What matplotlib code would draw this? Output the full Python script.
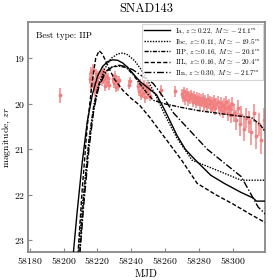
import matplotlib
matplotlib.use("Agg")
import matplotlib.pyplot as plt
import numpy as np

plt.rcParams['font.family'] = 'serif'
plt.rcParams['font.serif'] = ['cmr10', 'DejaVu Serif']
plt.rcParams['mathtext.fontset'] = 'cm'
plt.rcParams['axes.formatter.use_mathtext'] = True
plt.rcParams['axes.unicode_minus'] = False

# ---- observed photometry (MJD, magnitude, error) ----
obs_mjd = [58198.2,
    58215.5, 58216.0, 58216.5, 58217.0, 58217.5, 58218.0, 58218.5, 58219.0, 58219.5, 58220.0, 58220.5,
    58222.0, 58222.6, 58223.2, 58223.8, 58224.4, 58225.0, 58225.6, 58226.2, 58226.8,
    58229.0, 58229.6, 58230.2, 58230.8, 58231.4, 58232.0, 58232.6,
    58238.5, 58239.5,
    58244.0, 58244.6, 58245.2, 58245.8, 58246.4, 58247.0, 58247.6, 58248.2, 58248.8, 58249.4, 58250.0, 58250.6, 58251.2,
    58257.5, 58266.0,
    58270.0, 58270.6, 58271.2, 58271.8, 58272.4, 58273.0, 58273.6, 58274.2, 58274.8, 58275.4,
    58276.0, 58276.6, 58277.2, 58277.8, 58278.4, 58279.0, 58279.6, 58280.2, 58280.8, 58281.4,
    58282.0, 58282.6, 58283.2, 58283.8, 58284.4, 58285.0, 58285.6, 58286.2, 58286.8, 58287.4,
    58288.0, 58288.6, 58289.2, 58289.8, 58290.4, 58291.0, 58291.6, 58292.2, 58292.8, 58293.4,
    58294.0, 58294.6, 58295.2, 58295.8, 58296.4, 58297.0, 58297.6, 58298.2, 58298.8, 58299.4,
    58301.0, 58302.0, 58303.0, 58304.0, 58305.0, 58306.5, 58308.0, 58309.5, 58311.0, 58312.5,
    58314.0, 58315.5, 58317.0, 58318.5]
obs_mag = [19.81,
    19.45, 19.30, 19.60, 19.40, 19.25, 19.55, 19.70, 19.35, 19.50, 19.62, 19.40,
    19.35, 19.50, 19.28, 19.45, 19.60, 19.38, 19.52, 19.42, 19.58,
    19.45, 19.55, 19.38, 19.62, 19.50, 19.60, 19.48,
    19.58, 19.50,
    19.60, 19.72, 19.55, 19.80, 19.65, 19.75, 19.58, 19.85, 19.70, 19.62, 19.78, 19.68, 19.82,
    19.70, 19.72,
    19.78, 19.85, 19.72, 19.90, 19.80, 19.76, 19.92, 19.83, 19.88, 19.79,
    19.86, 19.95, 19.82, 19.90, 19.98, 19.84, 19.93, 19.88, 20.00, 19.90,
    19.95, 19.87, 20.02, 19.92, 19.98, 20.05, 19.90, 20.00, 19.94, 20.08,
    19.97, 20.04, 19.92, 20.10, 20.00, 19.95, 20.06, 20.12, 19.98, 20.05,
    20.15, 20.02, 20.10, 19.96, 20.08, 20.20, 20.05, 20.12, 20.25, 20.00,
    20.20, 20.35, 20.10, 20.45, 20.25, 20.55, 20.30, 20.40, 20.62, 20.20,
    20.70, 20.45, 20.80, 20.35]
obs_err = [0.17,
    0.12, 0.12, 0.13, 0.12, 0.12, 0.13, 0.14, 0.12, 0.13, 0.13, 0.12,
    0.10, 0.11, 0.10, 0.11, 0.12, 0.10, 0.11, 0.10, 0.12,
    0.10, 0.11, 0.10, 0.12, 0.11, 0.12, 0.10,
    0.10, 0.10,
    0.10, 0.11, 0.10, 0.12, 0.11, 0.11, 0.10, 0.12, 0.11, 0.10, 0.11, 0.10, 0.12,
    0.12, 0.12,
    0.10, 0.11, 0.10, 0.12, 0.11, 0.10, 0.12, 0.11, 0.12, 0.10,
    0.11, 0.12, 0.10, 0.11, 0.12, 0.10, 0.12, 0.11, 0.13, 0.11,
    0.12, 0.11, 0.13, 0.12, 0.12, 0.13, 0.11, 0.12, 0.12, 0.13,
    0.12, 0.13, 0.12, 0.14, 0.13, 0.12, 0.14, 0.15, 0.13, 0.14,
    0.15, 0.14, 0.15, 0.14, 0.16, 0.17, 0.15, 0.16, 0.18, 0.15,
    0.20, 0.22, 0.18, 0.25, 0.20, 0.26, 0.22, 0.24, 0.28, 0.20,
    0.30, 0.25, 0.30, 0.25]

# ---- model light curves ----
ia_t = [58205, 58208, 58211, 58214, 58217, 58220, 58223, 58226, 58229, 58232, 58235, 58238, 58241, 58245,
        58250, 58255, 58260, 58267, 58272, 58277, 58287, 58295, 58305, 58312, 58314, 58320]
ia_m = [23.6, 22.4, 21.3, 20.4, 19.8, 19.4, 19.18, 19.07, 19.03, 19.04, 19.1, 19.2, 19.33, 19.5,
        19.65, 19.8, 20.15, 20.69, 21.0, 21.2, 21.57, 21.75, 21.95, 22.07, 22.14, 22.14]

ibc_t = [58208, 58211, 58214, 58217, 58220, 58224, 58228, 58232, 58235, 58238, 58242, 58246, 58250,
         58255, 58260, 58267, 58276, 58290, 58305, 58320]
ibc_m = [23.6, 22.3, 21.2, 20.3, 19.7, 19.25, 19.0, 18.9, 18.88, 18.92, 19.05, 19.25, 19.5,
         19.85, 20.25, 20.75, 21.24, 21.45, 21.68, 21.68]

iip_t = [58209, 58212, 58215, 58218, 58221, 58225, 58229, 58233, 58237, 58241, 58245, 58249, 58253,
         58260, 58270, 58280, 58290, 58300, 58311, 58316, 58320]
iip_m = [23.6, 22.0, 20.8, 20.0, 19.55, 19.28, 19.18, 19.17, 19.2, 19.35, 19.55, 19.75, 19.92,
         20.0, 20.08, 20.15, 20.2, 20.25, 20.3, 20.45, 20.65]

iil_t = [58208, 58211, 58214, 58217, 58219, 58221, 58223, 58226, 58230, 58235, 58240, 58245, 58251,
         58260, 58270, 58279, 58290, 58300, 58310, 58320]
iil_m = [23.6, 21.9, 20.5, 19.5, 19.0, 18.83, 18.9, 19.15, 19.45, 19.7, 19.88, 20.03, 20.3,
         20.75, 21.25, 21.75, 22.0, 22.2, 22.42, 22.63]

iin_t = [58209, 58212, 58215, 58218, 58221, 58225, 58229, 58233, 58237, 58241, 58245, 58249, 58253,
         58259, 58265, 58275, 58285, 58293, 58305, 58315, 58320]
iin_m = [23.6, 22.2, 21.0, 20.1, 19.6, 19.3, 19.18, 19.15, 19.18, 19.25, 19.35, 19.45, 19.55,
         19.85, 20.2, 20.6, 21.0, 21.24, 21.6, 22.27, 22.45]

labels = [r'Ia, $z \simeq 0.22$, $M \simeq -21.1^m$',
          r'Ibc, $z \simeq 0.11$, $M \simeq -19.5^m$',
          r'IIP, $z \simeq 0.16$, $M \simeq -20.1^m$',
          r'IIL, $z \simeq 0.16$, $M \simeq -20.4^m$',
          r'IIn, $z \simeq 0.30$, $M \simeq -21.7^m$']

xticks = [58180, 58200, 58220, 58240, 58260, 58280, 58300]
yticks = [19, 20, 21, 22, 23]

fig = plt.figure(figsize=(2.8, 2.8), dpi=100)
ax = fig.add_axes([0.1, 0.1, 0.846, 0.821])

ax.errorbar(obs_mjd, obs_mag, yerr=obs_err, fmt='o', ms=1.8, color='#f08080',
            ecolor='#f4a0a0', elinewidth=1.4, capsize=0, zorder=1)

lw = 1.0
ax.plot(ia_t, ia_m, color='black', lw=lw, ls='-', label=labels[0], zorder=3)
ax.plot(ibc_t, ibc_m, color='black', lw=lw, ls=(0, (1, 1)), label=labels[1], zorder=3)
ax.plot(iip_t, iip_m, color='black', lw=lw, ls=(0, (3, 1, 1, 1)), label=labels[2], zorder=3)
ax.plot(iil_t, iil_m, color='black', lw=lw, ls=(0, (3, 1.5)), label=labels[3], zorder=3)
ax.plot(iin_t, iin_m, color='black', lw=lw, ls=(0, (5, 1.5, 1, 1.5)), label=labels[4], zorder=3)

ax.set_xlim(58179, 58319)
ax.set_ylim(23.26, 18.2)
ax.set_xticks(xticks)
ax.set_yticks(yticks)
ax.tick_params(direction='in', labelsize=7, length=3, width=0.8, color='#888888', pad=2)
for s in ax.spines.values():
    s.set_color('#888888')
    s.set_linewidth(1.3)

ax.set_xlabel('MJD', fontsize=7.5, labelpad=3)
ax.set_ylabel(r'magnitude, $zr$', fontsize=7, labelpad=1)
ax.set_title('SNAD143', fontsize=9, pad=7)
ax.text(0.035, 0.96, 'Best type: IIP', transform=ax.transAxes, fontsize=6.5, va='top', ha='left')

leg = ax.legend(loc='upper right', fontsize=5.2, handlelength=3.6, frameon=True, fancybox=False,
                borderpad=0.35, labelspacing=0.12, handletextpad=0.6, borderaxespad=0.25)
leg.get_frame().set_edgecolor('#cccccc')
leg.get_frame().set_linewidth(0.8)

fig.savefig('out.png', dpi=100)
